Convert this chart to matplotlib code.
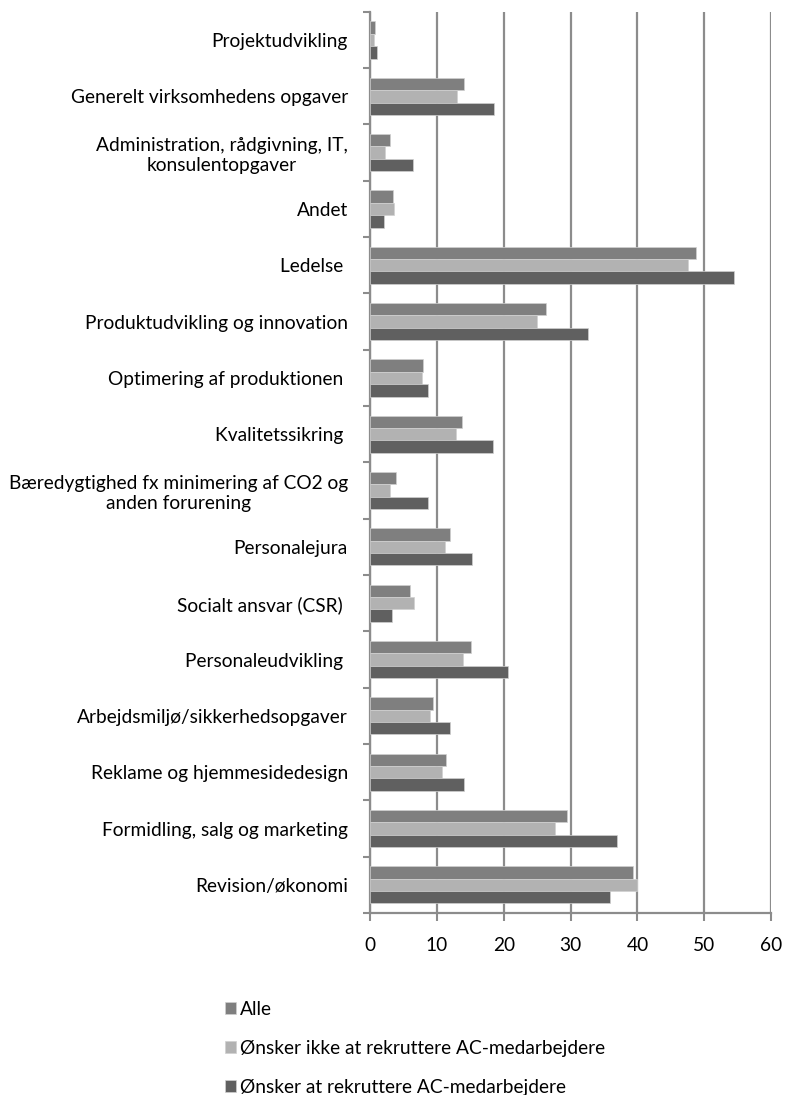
import numpy as np
import matplotlib
matplotlib.use("Agg")
import matplotlib.pyplot as plt

plt.rcParams["font.family"] = ["Lato", "DejaVu Sans"]

# Categories, top to bottom as shown in the chart
categories = [
    "Projektudvikling",
    "Generelt virksomhedens opgaver",
    "Administration, rådgivning, IT,\nkonsulentopgaver",
    "Andet",
    "Ledelse ",
    "Produktudvikling og innovation",
    "Optimering af produktionen ",
    "Kvalitetssikring ",
    "Bæredygtighed fx minimering af CO2 og\nanden forurening",
    "Personalejura",
    "Socialt ansvar (CSR) ",
    "Personaleudvikling ",
    "Arbejdsmiljø/sikkerhedsopgaver",
    "Reklame og hjemmesidedesign",
    "Formidling, salg og marketing",
    "Revision/økonomi",
]

alle = [0.7, 14.0, 3.0, 3.4, 48.8, 26.3, 7.9, 13.8, 3.9, 11.9, 6.0, 15.1, 9.4, 11.3, 29.4, 39.3]
onsker_ikke = [0.6, 13.0, 2.2, 3.6, 47.6, 25.0, 7.7, 12.8, 2.9, 11.2, 6.6, 13.9, 8.9, 10.7, 27.7, 40.0]
onsker = [1.0, 18.5, 6.4, 2.1, 54.5, 32.6, 8.6, 18.4, 8.6, 15.2, 3.2, 20.6, 11.9, 14.1, 36.9, 35.9]

series_labels = ["Alle", "Ønsker ikke at rekruttere AC-medarbejdere", "Ønsker at rekruttere AC-medarbejdere"]
colors = ["#7f7f7f", "#b2b2b2", "#606060"]

fig = plt.figure(figsize=(7.86, 10.95), dpi=100)
ax = fig.add_axes([0.471, 0.1662, 0.51, 0.823])

y = np.arange(len(categories))
h = 0.22
bars = []
for k, (vals, col, lab) in enumerate(zip([alle, onsker_ikke, onsker], colors, series_labels)):
    b = ax.barh(y + (k - 1) * h, vals, height=h, color=col, edgecolor="#d0d0d0",
                linewidth=0.5, label=lab, zorder=3)
    bars.append(b)

ax.set_ylim(len(categories) - 0.5, -0.5)
ax.set_xlim(0, 60)
ax.set_xticks(range(0, 61, 10))
ax.set_yticks(y)
ax.set_yticklabels(categories, fontsize=13.8, multialignment="center")
ax.set_yticks(np.arange(-0.5, len(categories), 1), minor=True)
ax.tick_params(axis="y", which="major", length=0, pad=16)
ax.tick_params(axis="y", which="minor", length=5, width=1.5, color="#8c8c8c")
ax.tick_params(axis="x", length=6, width=1.5, color="#8c8c8c", labelsize=13.8, pad=11)

ax.grid(axis="x", color="#8c8c8c", linewidth=1.6, zorder=0)
for s in ["top", "right"]:
    ax.spines[s].set_visible(False)
for s in ["left", "bottom"]:
    ax.spines[s].set_color("#8c8c8c")
    ax.spines[s].set_linewidth(1.6)

fig.legend(handles=bars, labels=series_labels, loc="upper left",
           bbox_to_anchor=(0.276, 0.093), frameon=False, fontsize=13.8,
           handlelength=0.6, handleheight=0.6, handletextpad=0.2,
           labelspacing=1.15, borderaxespad=0)

fig.savefig("out.png", dpi=100)
